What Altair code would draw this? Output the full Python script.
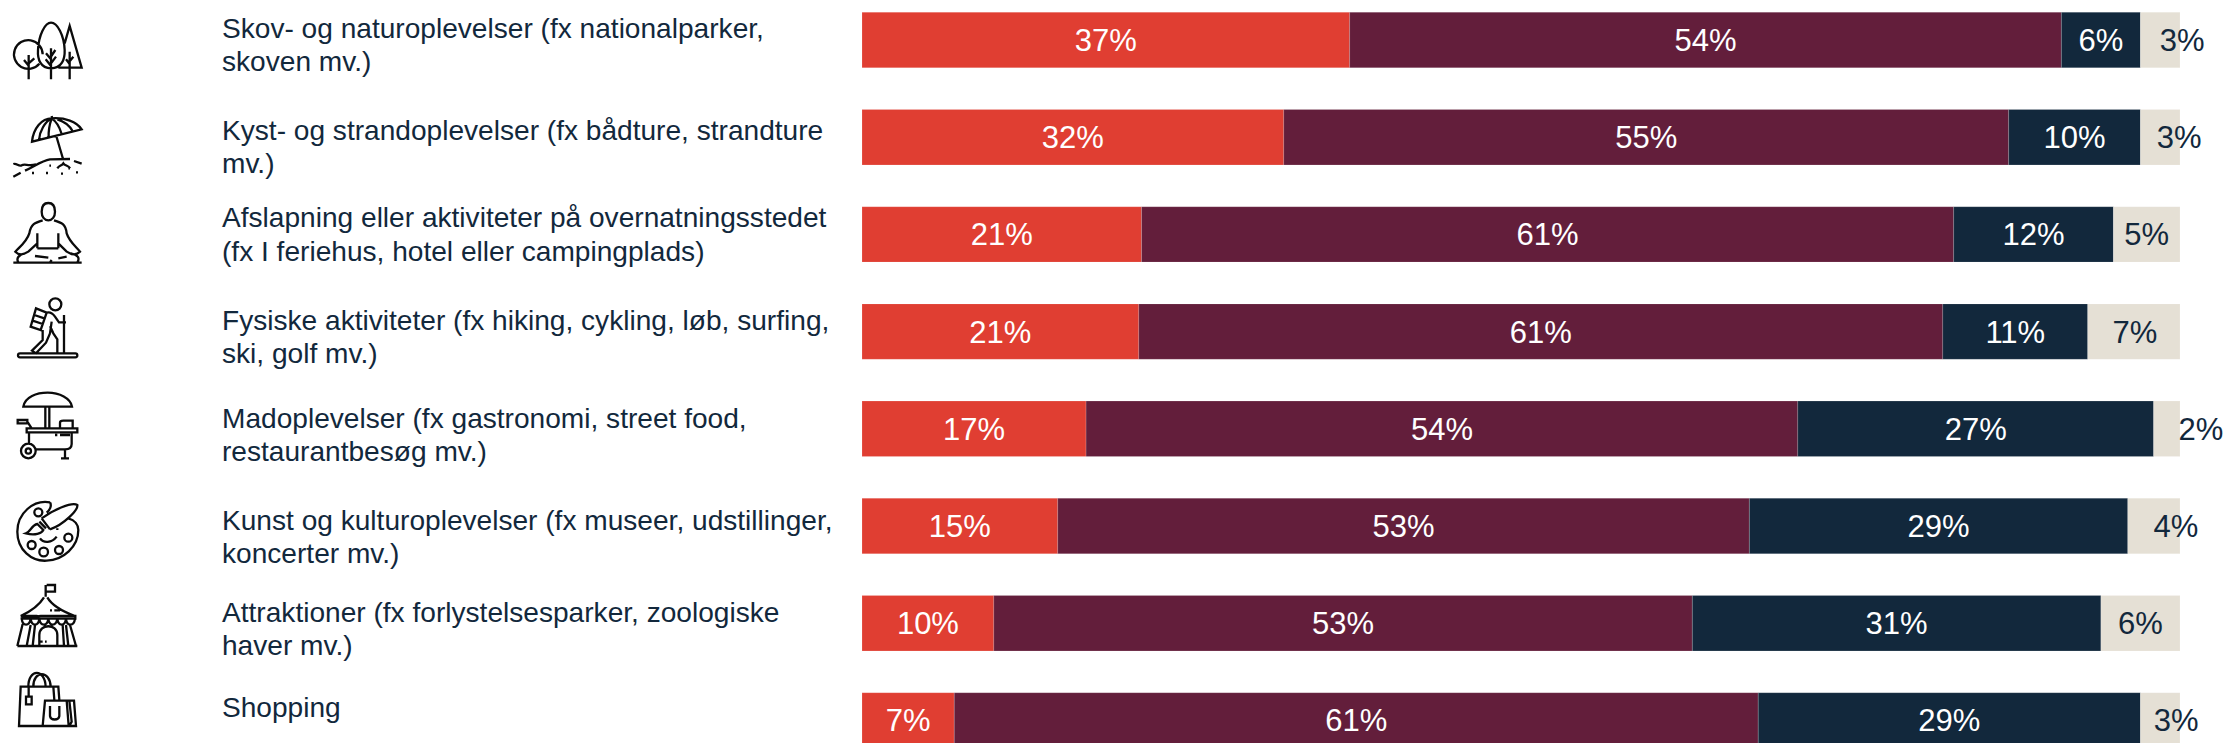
import altair as alt
import pandas as pd

# Activity labels, top to bottom
activities = [
    "Skov- og naturoplevelser (fx nationalparker,\nskoven mv.)",
    "Kyst- og strandoplevelser (fx bådture, strandture\nmv.)",
    "Afslapning eller aktiviteter på overnatningsstedet\n(fx I feriehus, hotel eller campingplads)",
    "Fysiske aktiviteter (fx hiking, cykling, løb, surfing,\nski, golf mv.)",
    "Madoplevelser (fx gastronomi, street food,\nrestaurantbesøg mv.)",
    "Kunst og kulturoplevelser (fx museer, udstillinger,\nkoncerter mv.)",
    "Attraktioner (fx forlystelsesparker, zoologiske\nhaver mv.)",
    "Shopping",
]

# Answer shares per activity, in percent
share_a = [37, 32, 21, 21, 17, 15, 10, 7]
share_b = [54, 55, 61, 61, 54, 53, 53, 61]
share_c = [6, 10, 12, 11, 27, 29, 31, 29]
share_d = [3, 3, 5, 7, 2, 4, 6, 3]

RED, MAROON, NAVY, SAND = "#e03e32", "#631e3b", "#12283c", "#e5e0d5"
colors = [RED, MAROON, NAVY, SAND]

records = []
for i, name in enumerate(activities):
    values = [share_a[i], share_b[i], share_c[i], share_d[i]]
    total = sum(values)
    running = 0
    for s, v in enumerate(values):
        records.append({
            "activity": name,
            "series": "abcd"[s],
            "start": running / total,
            "end": (running + v) / total,
            "mid": (running + v / 2) / total,
            "label": f"{v}%",
        })
        running += v
table = pd.DataFrame(records)

x_scale = alt.Scale(domain=[0, 1], range=[862, 2180])
y_scale = alt.Scale(domain=activities, range=[-8.6, 769], paddingInner=0.43, paddingOuter=0.215)
x_enc = alt.X("start:Q", scale=x_scale, axis=None)
y_enc = alt.Y("activity:N", scale=y_scale, axis=None, sort=None)

bars = alt.Chart(table).mark_bar(stroke="white", strokeWidth=0.6, strokeOpacity=0.25).encode(
    x=x_enc,
    x2="end:Q",
    y=y_enc,
    color=alt.Color("series:N", scale=alt.Scale(domain=list("abcd"), range=colors), legend=None),
)

FONT = "Liberation Sans"
PCT_SIZE = 31
LABEL_SIZE = 28.1

inner_labels = alt.Chart(table).transform_filter("datum.series != 'd'").mark_text(
    font=FONT, fontSize=PCT_SIZE, color="white", baseline="middle", align="center", dy=2
).encode(x=alt.X("mid:Q", scale=x_scale, axis=None), y=y_enc, text="label:N")

# Narrow sand segments push their percentage to the right of the centre
sand_dx = [22, 19, 0, 1, 34, 22, 0, 16]
sand_layers = []
for i, name in enumerate(activities):
    sand_layers.append(
        alt.Chart(table).transform_filter(
            alt.FieldEqualPredicate(field="activity", equal=name)
        ).transform_filter("datum.series == 'd'").mark_text(
            font=FONT, fontSize=PCT_SIZE, color=NAVY, baseline="middle", align="center",
            dy=2, dx=sand_dx[i]
        ).encode(x=alt.X("mid:Q", scale=x_scale, axis=None), y=y_enc, text="label:N")
    )

# Row captions sit slightly off the bar centre, each by its own amount
caption_dy = [-10.5, -5.5, -15, -10, -9.3, -4.5, -9.5, -11.3]
caption_layers = []
for i, name in enumerate(activities):
    caption_layers.append(
        alt.Chart(table).transform_filter(
            alt.FieldEqualPredicate(field="activity", equal=name)
        ).transform_filter("datum.series == 'a'").mark_text(
            font=FONT, fontSize=LABEL_SIZE, color=NAVY, baseline="middle", align="left",
            lineBreak="\n", lineHeight=33.5, dy=caption_dy[i]
        ).encode(x=alt.value(222), y=y_enc, text="activity:N")
    )

# Line icons, drawn at three units per pixel
trees = (
    "M 128 163 A 43 43 0 1 0 118 191 "
    "M 86 165 L 86 238 M 86 197 L 72 180 M 86 190 L 103 175 "
    "M 153 205 C 122 205 112 178 114 150 C 116 105 135 68 153 68 C 172 68 192 105 194 150 C 195 178 185 205 153 205 "
    "M 153 145 L 153 238 M 153 178 L 138 160 M 153 170 L 166 150 M 153 198 L 137 178 M 153 190 L 168 170 "
    "M 194 130 L 209 78 L 245 203 L 175 203 "
    "M 209 155 L 209 238 M 209 192 L 198 178 M 209 184 L 220 170"
)
beach = (
    "M 96 425 C 100 385 125 355 155 355 C 195 352 230 365 245 388 Z "
    "M 155 355 C 135 365 118 395 117 420 M 155 355 C 148 375 145 395 146 413 "
    "M 155 355 C 170 365 180 385 185 402 M 172 358 C 195 365 210 378 218 394 "
    "M 155 348 L 157 356 M 168 405 L 190 480 "
    "M 172 505 C 178 495 185 498 190 490 C 195 498 205 495 210 505 "
    "M 40 530 L 62 518 M 75 512 C 105 498 125 482 150 478 L 210 477 M 222 483 L 245 491 "
    "M 40 492 C 50 488 55 500 65 496 C 75 490 85 500 108 493 "
    "M 96 519 L 102 519 M 138 519 L 144 519 M 183 521 L 189 521 M 228 517 L 234 517 M 148 497 L 153 497 M 205 505 L 210 505"
)
meditate = (
    "M 125 635 C 125 618 133 609 145 609 C 157 609 165 618 165 635 C 165 650 157 661 145 661 C 133 661 125 650 125 635 "
    "M 128 661 C 105 668 93 672 88 700 C 80 725 60 740 46 755 C 55 765 70 765 85 755 L 112 730 "
    "M 162 661 C 185 668 197 672 200 700 C 208 725 228 740 240 755 C 230 765 215 765 200 755 L 175 730 "
    "M 112 700 L 112 745 M 175 700 L 175 745 M 112 745 L 175 745 "
    "M 75 760 C 55 765 48 775 55 787 M 212 760 C 235 765 240 775 232 787 "
    "M 105 768 L 145 773 M 175 775 L 200 770 M 150 787 L 155 780 "
    "M 40 788 L 245 788"
)
hiker = (
    "M 148 913 A 18 18 0 1 0 184 913 A 18 18 0 1 0 148 913 "
    "M 140 938 L 108 925 L 92 980 L 122 990 L 140 938 M 98 962 L 128 972 M 103 945 L 133 955 "
    "M 140 938 C 150 935 158 940 165 950 L 177 967 L 198 967 "
    "M 150 978 L 160 1000 L 172 1018 L 172 1058 M 155 965 L 150 1000 "
    "M 128 990 L 128 1020 L 96 1052 L 108 1060 L 138 1028 L 150 1000 "
    "M 192 945 L 192 1058 "
    "M 60 1060 L 226 1060 A 6 6 0 0 1 226 1072 L 60 1072 A 6 6 0 0 1 60 1060"
)
cart = (
    "M 70 110 C 75 80 110 68 143 68 C 178 68 212 85 216 110 Z "
    "M 136 110 L 136 175 M 148 110 L 148 175 "
    "M 80 175 L 232 175 L 232 187 L 80 187 Z "
    "M 87 187 L 87 222 M 215 187 L 215 222 C 215 232 208 238 195 238 L 106 238 "
    "M 195 238 L 195 265 M 183 265 L 207 265 "
    "M 63 243 A 22 22 0 1 0 107 243 A 22 22 0 1 0 63 243 "
    "M 77 243 A 8 8 0 1 0 93 243 A 8 8 0 1 0 77 243 "
    "M 53 150 L 82 150 L 82 160 L 53 160 Z M 82 155 L 95 175 "
    "M 180 175 L 180 158 C 180 153 185 152 190 152 L 218 152 L 218 175 "
    "M 165 195 L 172 195 M 180 195 L 210 195"
)
palette = (
    "M 150 397 C 100 388 52 430 52 485 C 52 540 95 575 140 572 C 190 570 235 530 235 480 C 235 465 225 450 205 445 "
    "M 150 397 C 155 405 152 418 140 428 "
    "M 103 427 A 12 12 0 1 0 127 427 A 12 12 0 1 0 103 427 "
    "M 193 503 A 12 12 0 1 0 217 503 A 12 12 0 1 0 193 503 "
    "M 83 525 A 12 12 0 1 0 107 525 A 12 12 0 1 0 83 525 "
    "M 118 546 A 13 13 0 1 0 144 546 A 13 13 0 1 0 118 546 "
    "M 165 540 A 12 12 0 1 0 189 540 A 12 12 0 1 0 165 540 "
    "M 120 505 C 130 520 155 520 170 500 "
    "M 78 490 C 92 485 95 465 112 462 L 130 480 C 125 490 105 497 78 490 Z "
    "M 118 455 L 138 475 M 125 445 C 160 420 215 395 232 405 C 235 420 190 465 150 478 "
    "M 125 445 L 150 478 M 172 475 L 172 480"
)
tent = (
    "M 137 645 L 137 680 M 140 645 L 165 645 L 165 665 L 140 665 "
    "M 132 682 C 118 705 90 725 62 738 M 142 682 C 155 705 190 725 225 738 "
    "M 62 738 L 112 738 M 122 738 L 226 738 L 226 746 L 62 746 Z "
    "M 150 721 L 156 721 M 163 721 L 180 721 "
    "M 65 746 C 68 770 88 770 92 746 C 95 770 115 770 118 746 C 121 770 142 770 145 746 "
    "M 145 746 C 148 770 168 770 172 746 C 175 770 195 770 198 746 C 200 770 222 770 225 746 "
    "M 68 762 L 52 828 M 92 765 L 80 828 M 105 765 L 98 828 M 210 765 L 228 828 M 198 765 L 205 828 M 188 765 L 192 828 "
    "M 118 828 L 118 795 C 118 760 172 760 172 795 L 172 828 "
    "M 135 815 L 140 815 M 120 815 L 128 815 "
    "M 52 828 L 232 828"
)
bags = (
    "M 130 1068 L 57 1068 L 62 950 L 175 950 L 178 990 "
    "M 85 950 C 85 895 135 895 137 950 M 100 950 C 100 900 150 900 152 950 "
    "M 86 950 L 86 978 M 78 980 L 95 980 L 95 1003 L 78 1003 Z "
    "M 160 950 L 163 990 "
    "M 135 992 L 222 992 L 228 1068 L 128 1068 Z "
    "M 200 992 L 206 1068 M 208 992 L 215 1055 L 208 1068 "
    "M 150 1008 L 150 1038 C 152 1052 176 1052 178 1038 L 178 1008"
)

# The icon column comes in two blocks, each path given in its block's units
icon_size = 4 / 9
icon_layers = []
for path, top in [(trees, 0), (beach, 0), (meditate, 0), (hiker, 0),
                  (cart, 370), (palette, 370), (tent, 370), (bags, 370)]:
    icon_layers.append(
        alt.Chart(table).transform_filter("datum.series == 'a'").transform_filter(
            alt.FieldEqualPredicate(field="activity", equal=activities[0])
        ).mark_point(
            shape=path, size=icon_size, filled=False, stroke="#0b0b0b",
            strokeWidth=2.3, opacity=1, strokeCap="butt"
        ).encode(x=alt.value(0), y=alt.value(top))
    )

chart = alt.layer(
    bars, inner_labels, *sand_layers, *caption_layers, *icon_layers
).properties(
    width=2224, height=743, padding=0, autosize=alt.AutoSizeParams(type="none"), background="white"
).configure_view(stroke=None)

chart.save("out.html", embed_options={"renderer": "svg", "actions": False})
